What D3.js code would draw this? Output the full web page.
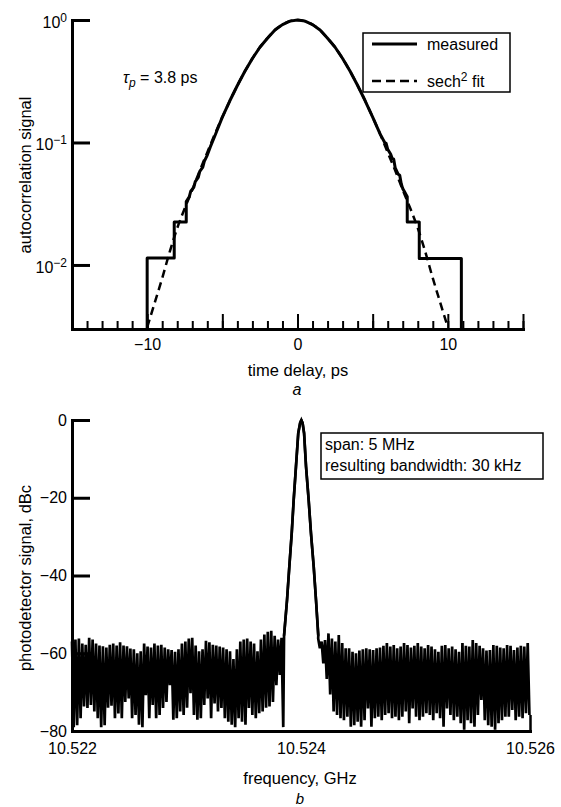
<!DOCTYPE html>
<html>
<head>
<meta charset="utf-8">
<script src="https://cdn.jsdelivr.net/npm/d3@7"></script>
<style>
  body { margin: 0; background: #fff; }
  svg { display: block; font-family: "Liberation Sans", Arial, sans-serif; }
  .axis path, .axis line { stroke: #000; }
  .axis text { fill: #000; font-size: 16px; font-family: "Liberation Sans", Arial, sans-serif; }
</style>
</head>
<body>
<script>
// panel a - autocorrelation trace (time delay in ps)
var fitT = [-10, -9.5, -9, -8.5, -8, -7.5, -7, -6.5, -6, -5.5, -5, -4.5, -4, -3.5, -3, -2.5, -2, -1.5, -1, -0.5,
            0, 0.5, 1, 1.5, 2, 2.5, 3, 3.5, 4, 4.5, 5, 5.5, 6, 6.5, 7, 7.5, 8, 8.5, 9, 9.5, 10];
var fitV = [0.0031, 0.0049, 0.0078, 0.0128, 0.020, 0.029, 0.041, 0.059, 0.083, 0.117, 0.161, 0.219, 0.292, 0.381, 0.485, 0.599, 0.710, 0.828, 0.917, 0.979,
            1, 0.979, 0.917, 0.828, 0.710, 0.599, 0.485, 0.381, 0.292, 0.219, 0.161, 0.117, 0.083, 0.059, 0.041, 0.029, 0.020, 0.0128, 0.0078, 0.0049, 0.0031];
var measT = [-10, -10, -8.2, -8.2, -7.4, -7.4, -7.2, -7.1, -6.9, -6.8, -6.6, -6.5, -6.3, -6.2, -6.0, -5.8, -5.5, -5, -4.5, -4,
             -3.5, -3, -2.5, -2, -1.5, -1, -0.5, 0, 0.5, 1, 1.5, 2, 2.5, 3, 3.5, 4, 4.5, 5, 5.5, 5.8,
             5.9, 6.0, 6.2, 6.3, 6.4, 6.5, 6.7, 6.8, 6.9, 7.0, 7.1, 7.3, 7.3, 8.1, 8.1, 10.9, 10.9];
var measV = [0.003, 0.0114, 0.0114, 0.0224, 0.0224, 0.033, 0.036, 0.040, 0.043, 0.048, 0.052, 0.058, 0.063, 0.070, 0.079, 0.092, 0.113, 0.161, 0.219, 0.292,
             0.381, 0.485, 0.599, 0.710, 0.828, 0.917, 0.979, 1, 0.979, 0.917, 0.828, 0.710, 0.599, 0.485, 0.381, 0.292, 0.219, 0.161, 0.117, 0.100,
             0.098, 0.088, 0.080, 0.074, 0.073, 0.062, 0.055, 0.054, 0.046, 0.042, 0.040, 0.036, 0.0224, 0.0224, 0.0113, 0.0113, 0.003];
var timeLabels = [-10, 0, 10];
var sigTicks = [1, 0.1, 0.01];
var sigExp = ["0", "\u22121", "\u22122"];

// panel b - RF spectrum
var freqTicks = [10.522, 10.524, 10.526];
var dbTicks = [0, -20, -40, -60, -80];
var peakCenter = 10.524;   // GHz
var peakOffset = [-0.148, -0.122, -0.102, -0.081, -0.064, -0.044, -0.024, -0.008, 0.003, 0.014, 0.027, 0.044, 0.067, 0.087, 0.111, 0.131, 0.151]; // MHz
var peakDb = [-55.5, -46.3, -37.7, -29.1, -20.6, -12.0, -3.4, -0.8, 0, -0.8, -3.4, -12.0, -20.6, -29.1, -37.7, -46.3, -55.5];
var noiseStep = 0.00003;   // GHz between samples
var leftStart = 10.522;
var leftHi = [-57, -56.5, -56.2, -57.5, -57.8, -56.0, -56.5, -57.5, -58.0, -58.2,
              -58.5, -57.8, -57.5, -58.0, -57.2, -58.0, -58.2, -58.8, -59.0, -60.0,
              -59.5, -57.5, -58.3, -58.5, -57.5, -58.0, -57.8, -58.5, -59.0, -59.2,
              -59.6, -59.0, -57.5, -57.0, -56.2, -56.0, -58.0, -59.5, -59.0, -56.8,
              -57.2, -57.8, -58.0, -58.3, -58.5, -59.0, -59.5, -61.5, -59.0, -57.0,
              -56.5, -56.2, -57.0, -57.5, -59.5, -56.5, -55.2, -54.5, -54.2, -55.5,
              -56.5, -56.0];
var leftLo = [-79, -78.5, -76.7, -73.7, -74.1, -73.3, -75.0, -76.7, -79.0, -78.5,
              -74.0, -73.5, -76.7, -75.5, -76.7, -72.5, -71.6, -76.7, -75.9, -78.4,
              -79.0, -70.8, -76.7, -73.3, -76.7, -75.9, -74.1, -72.5, -68.2, -77.1,
              -76.7, -75.0, -75.9, -74.0, -70.3, -75.9, -77.1, -76.7, -73.3, -71.6,
              -76.7, -72.9, -75.0, -74.1, -76.7, -77.6, -78.4, -79.0, -76.7, -77.6,
              -78.4, -74.1, -75.9, -76.7, -75.4, -75.0, -74.0, -73.7, -72.5, -68.2,
              -65.6, -79.0];
var rightStart = 10.52415;
var rightHi = [-56.2, -57.0, -56.6, -54.9, -56.2, -57.0, -55.3, -57.4, -58.7, -58.7,
               -59.6, -60.0, -59.3, -59.0, -58.7, -59.0, -59.2, -58.7, -58.5, -58.1,
               -57.4, -58.3, -57.9, -58.7, -58.3, -57.4, -57.9, -58.5, -58.1, -57.4,
               -58.3, -58.7, -57.9, -58.3, -59.0, -59.6, -58.1, -57.9, -58.7, -58.3,
               -59.0, -59.6, -57.4, -58.1, -58.3, -56.6, -57.4, -58.1, -58.7, -59.3,
               -59.2, -57.9, -58.1, -58.5, -58.7, -57.9, -58.1, -59.2, -58.5, -58.1,
               -58.3, -57.4];
var rightLo = [-58.7, -62.6, -66.6, -70.6, -75.0, -75.9, -76.7, -77.2, -76.3, -78.9,
               -78.5, -77.6, -78.9, -77.2, -74.2, -78.9, -76.7, -76.3, -77.2, -75.9,
               -75.4, -76.7, -76.3, -77.2, -76.3, -75.0, -78.0, -74.2, -76.3, -77.2,
               -76.3, -75.4, -75.9, -77.2, -75.4, -76.7, -78.9, -74.2, -75.9, -77.2,
               -76.3, -78.0, -79.7, -77.2, -78.0, -78.9, -75.9, -72.0, -77.2, -78.5,
               -78.9, -79.7, -78.0, -77.2, -76.3, -76.3, -74.6, -77.2, -76.3, -76.7,
               -75.4, -75.9];

var svg = d3.select('body').append('svg')
            .attr('width', 561)
            .attr('height', 807);

function styleAxis(g, lw, tw) {
  g.attr('class', 'axis');
  g.select('.domain').attr('stroke-width', lw).attr('stroke-linecap', 'square');
  g.selectAll('.tick line').attr('stroke-width', tw);
}

// ---------- panel a ----------
var xa = d3.scaleLinear().domain([-15, 15]).range([72, 523]);
var ya = d3.scaleLog().domain([0.003, 1]).range([329, 20]);

// minor ticks every ps, taller ones every 5 ps, pointing up into the plot
svg.append('g').attr('transform', 'translate(0,329)')
   .call(d3.axisBottom(xa).tickValues(d3.range(-15, 16)).tickSize(-8).tickSizeOuter(0).tickFormat(''))
   .call(styleAxis, 3, 2);
svg.append('g').attr('transform', 'translate(0,329)')
   .call(d3.axisBottom(xa).tickValues(d3.range(-15, 16, 5)).tickSize(-15).tickSizeOuter(0).tickPadding(10)
          .tickFormat(function (d) { return timeLabels.indexOf(d) >= 0 ? d3.format('d')(d) : ''; }))
   .call(styleAxis, 3, 2);

var gya = svg.append('g').attr('transform', 'translate(72,0)')
   .call(d3.axisLeft(ya).tickValues(sigTicks).tickSize(-18).tickSizeOuter(0).tickPadding(5))
   .call(styleAxis, 3, 3);
gya.selectAll('.tick text').each(function (d) {
  var t = d3.select(this).text(null).attr('dy', '0.45em');
  t.append('tspan').text('10');
  t.append('tspan').attr('dy', '-0.5em').attr('font-size', '12px').text(sigExp[sigTicks.indexOf(d)]);
});

var lineA = d3.line().x(function (d) { return xa(d[0]); }).y(function (d) { return ya(d[1]); });

svg.append('path')
   .datum(fitT.map(function (t, i) { return [t, fitV[i]]; }))
   .attr('d', lineA.curve(d3.curveMonotoneX))
   .attr('fill', 'none').attr('stroke', '#000').attr('stroke-width', 2.5)
   .attr('stroke-dasharray', '8,5');

svg.append('path')
   .datum(measT.map(function (t, i) { return [t, measV[i]]; }))
   .attr('d', lineA.curve(d3.curveLinear))
   .attr('fill', 'none').attr('stroke', '#000').attr('stroke-width', 3)
   .attr('stroke-linejoin', 'round');

// tau_p note
var tau = svg.append('text').attr('x', 123).attr('y', 83).attr('font-size', 16);
tau.append('tspan').attr('font-style', 'italic').text('\u03c4');
tau.append('tspan').attr('font-style', 'italic').attr('font-size', 12).attr('dy', 4).text('p');
tau.append('tspan').attr('dy', -4).text(' = 3.8 ps');

// legend
var leg = svg.append('g');
leg.append('rect').attr('x', 363).attr('y', 33).attr('width', 147).attr('height', 59)
   .attr('fill', 'none').attr('stroke', '#000').attr('stroke-width', 1.5);
leg.append('line').attr('x1', 372).attr('x2', 417).attr('y1', 44).attr('y2', 44)
   .attr('stroke', '#000').attr('stroke-width', 3);
leg.append('line').attr('x1', 372).attr('x2', 417).attr('y1', 81).attr('y2', 81)
   .attr('stroke', '#000').attr('stroke-width', 2.5).attr('stroke-dasharray', '9,5');
leg.append('text').attr('x', 427).attr('y', 50).attr('font-size', 16).text('measured');
var sech = leg.append('text').attr('x', 427).attr('y', 87).attr('font-size', 16);
sech.append('tspan').text('sech');
sech.append('tspan').attr('font-size', 12).attr('dy', -6).text('2');
sech.append('tspan').attr('dy', 6).text(' fit');

svg.append('text').attr('transform', 'translate(31,175) rotate(-90)')
   .attr('text-anchor', 'middle').attr('font-size', 16.5).text('autocorrelation signal');
svg.append('text').attr('x', 298).attr('y', 376)
   .attr('text-anchor', 'middle').attr('font-size', 16.5).text('time delay, ps');
svg.append('text').attr('x', 297).attr('y', 395)
   .attr('text-anchor', 'middle').attr('font-size', 16).attr('font-style', 'italic').text('a');

// ---------- panel b ----------
var xb = d3.scaleLinear().domain([10.522, 10.526]).range([72, 530]);
var yb = d3.scaleLinear().domain([-80, 0]).range([731, 420]);

svg.append('g').attr('transform', 'translate(0,731)')
   .call(d3.axisBottom(xb).tickValues(freqTicks).tickSize(0).tickPadding(12).tickFormat(d3.format('.3f')))
   .call(styleAxis, 3, 2);
svg.append('g').attr('transform', 'translate(0,731)')
   .call(d3.axisBottom(xb).tickValues([10.526]).tickSize(-16).tickSizeOuter(0).tickFormat(''))
   .call(styleAxis, 3, 2.5);
svg.append('g').attr('transform', 'translate(72,0)')
   .call(d3.axisLeft(yb).tickValues(dbTicks).tickSize(-18).tickSizeOuter(0).tickPadding(5).tickFormat(d3.format('d')))
   .call(styleAxis, 3, 3);

function zigzag(f0, hi, lo) {
  var pts = [];
  hi.forEach(function (h, i) {
    pts.push([f0 + noiseStep * i, h]);
    pts.push([f0 + noiseStep * (i + 0.5), lo[i]]);
  });
  return pts;
}
var peakPts = peakOffset.map(function (o, i) { return [peakCenter + o / 1000, peakDb[i]]; });
var spec = zigzag(leftStart, leftHi, leftLo).concat(peakPts, zigzag(rightStart, rightHi, rightLo));

var lineB = d3.line().x(function (d) { return xb(d[0]); }).y(function (d) { return yb(d[1]); });
svg.append('path').datum(spec).attr('d', lineB)
   .attr('fill', 'none').attr('stroke', '#000').attr('stroke-width', 2.7);
svg.append('path').datum(peakPts).attr('d', lineB)
   .attr('fill', 'none').attr('stroke', '#000').attr('stroke-width', 2.6).attr('stroke-linejoin', 'round');

// settings box
svg.append('rect').attr('x', 321).attr('y', 433).attr('width', 222).attr('height', 46)
   .attr('fill', '#fff').attr('stroke', '#000').attr('stroke-width', 1.5);
svg.append('text').attr('x', 325).attr('y', 450).attr('font-size', 16).text('span: 5 MHz');
svg.append('text').attr('x', 325).attr('y', 471).attr('font-size', 16).text('resulting bandwidth: 30 kHz');

svg.append('text').attr('transform', 'translate(31,578) rotate(-90)')
   .attr('text-anchor', 'middle').attr('font-size', 16.5).text('photodetector signal, dBc');
svg.append('text').attr('x', 300).attr('y', 784)
   .attr('text-anchor', 'middle').attr('font-size', 16.5).text('frequency, GHz');
svg.append('text').attr('x', 300).attr('y', 804)
   .attr('text-anchor', 'middle').attr('font-size', 15).attr('font-style', 'italic').text('b');
</script>
</body>
</html>
